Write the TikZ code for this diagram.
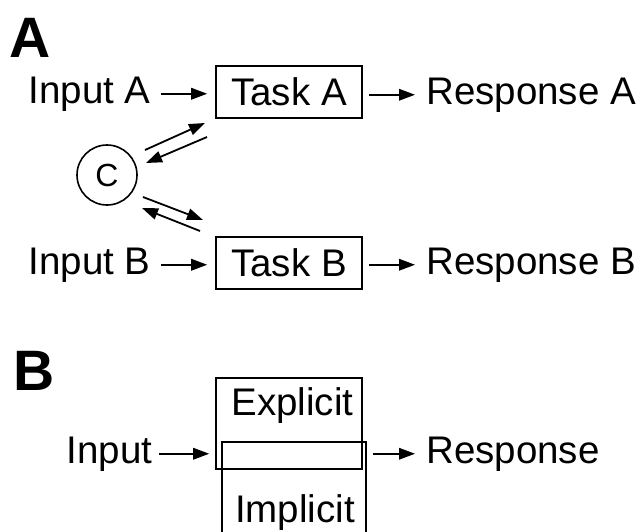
\documentclass[tikz,border=0pt]{standalone}
\usepackage{fontspec}
\setmainfont{Liberation Sans}
\usetikzlibrary{arrows.meta}
\begin{document}
\begin{tikzpicture}[x=1pt,y=-1pt,
  lbl/.style={font=\fontsize{38.5}{40}\selectfont, inner sep=0pt, anchor=base west},
  panel/.style={font=\fontsize{57}{60}\selectfont\bfseries, inner sep=0pt, anchor=base west},
  taskbox/.style={draw, line width=1.6pt, minimum width=146pt, minimum height=52pt, inner sep=0pt, font=\fontsize{38.5}{40}\selectfont},
  plainbox/.style={draw, line width=1.6pt, inner sep=0pt},
  arr/.style={line width=1.8pt, -{Triangle[length=16pt,width=11.5pt]}},
]
\useasboundingbox (0,0) rectangle (643,531);
% Panel A
\node[panel] (labA) at (9,57) {A};
\node[lbl] (inA) at (28.4,103) {Input A};
\node[taskbox] (taskA) at (289,92) {Task A};
\node[lbl] (respA) at (426,104) {Response A};
\node[lbl] (inB) at (28.4,274) {Input B};
\node[taskbox] (taskB) at (289,263) {Task B};
\node[lbl] (respB) at (426,274) {Response B};
\node[circle, draw, line width=1.6pt, minimum size=60pt, inner sep=0pt, font=\fontsize{32}{34}\selectfont] (C) at (107,175) {C};

\draw[arr, shorten <=10pt, shorten >=8pt] (inA.east) -- (taskA.west |- inA.east);
\draw[arr, shorten <=6pt, shorten >=11pt] (taskA.east |- respA.west) -- (respA.west);
\draw[arr, shorten <=10pt, shorten >=8pt] (inB.east) -- (taskB.west |- inB.east);
\draw[arr, shorten <=6pt, shorten >=11pt] (taskB.east |- respB.west) -- (respB.west);

\coordinate (c1s) at (145,150); \coordinate (c1e) at (205,123);
\coordinate (c2s) at (207,137); \coordinate (c2e) at (146,163);
\coordinate (c3s) at (143,197); \coordinate (c3e) at (203,220);
\coordinate (c4s) at (200,231); \coordinate (c4e) at (142,208);
\draw[arr] (c1s) -- (c1e);
\draw[arr] (c2s) -- (c2e);
\draw[arr] (c3s) -- (c3e);
\draw[arr] (c4s) -- (c4e);

% Panel B
\node[panel] (labB) at (13,390) {B};
\node[plainbox, minimum width=146pt, minimum height=91pt] (expl) at (289,423.5) {};
\node[plainbox, minimum width=144pt, minimum height=118pt] (impl) at (294,501) {};
\node[lbl, anchor=base] (explT) at (292.5,415) {Explicit};
\node[lbl, anchor=base] (implT) at (295,522) {Implicit};
\node[lbl] (inP) at (66.4,463) {Input};
\node[lbl] (respP) at (426,463) {Response};
\draw[arr, shorten <=7pt, shorten >=6pt] (inP.east) -- (expl.west |- inP.east);
\draw[arr, shorten <=6pt, shorten >=11pt] (impl.east |- respP.west) -- (respP.west);
\end{tikzpicture}
\end{document}
